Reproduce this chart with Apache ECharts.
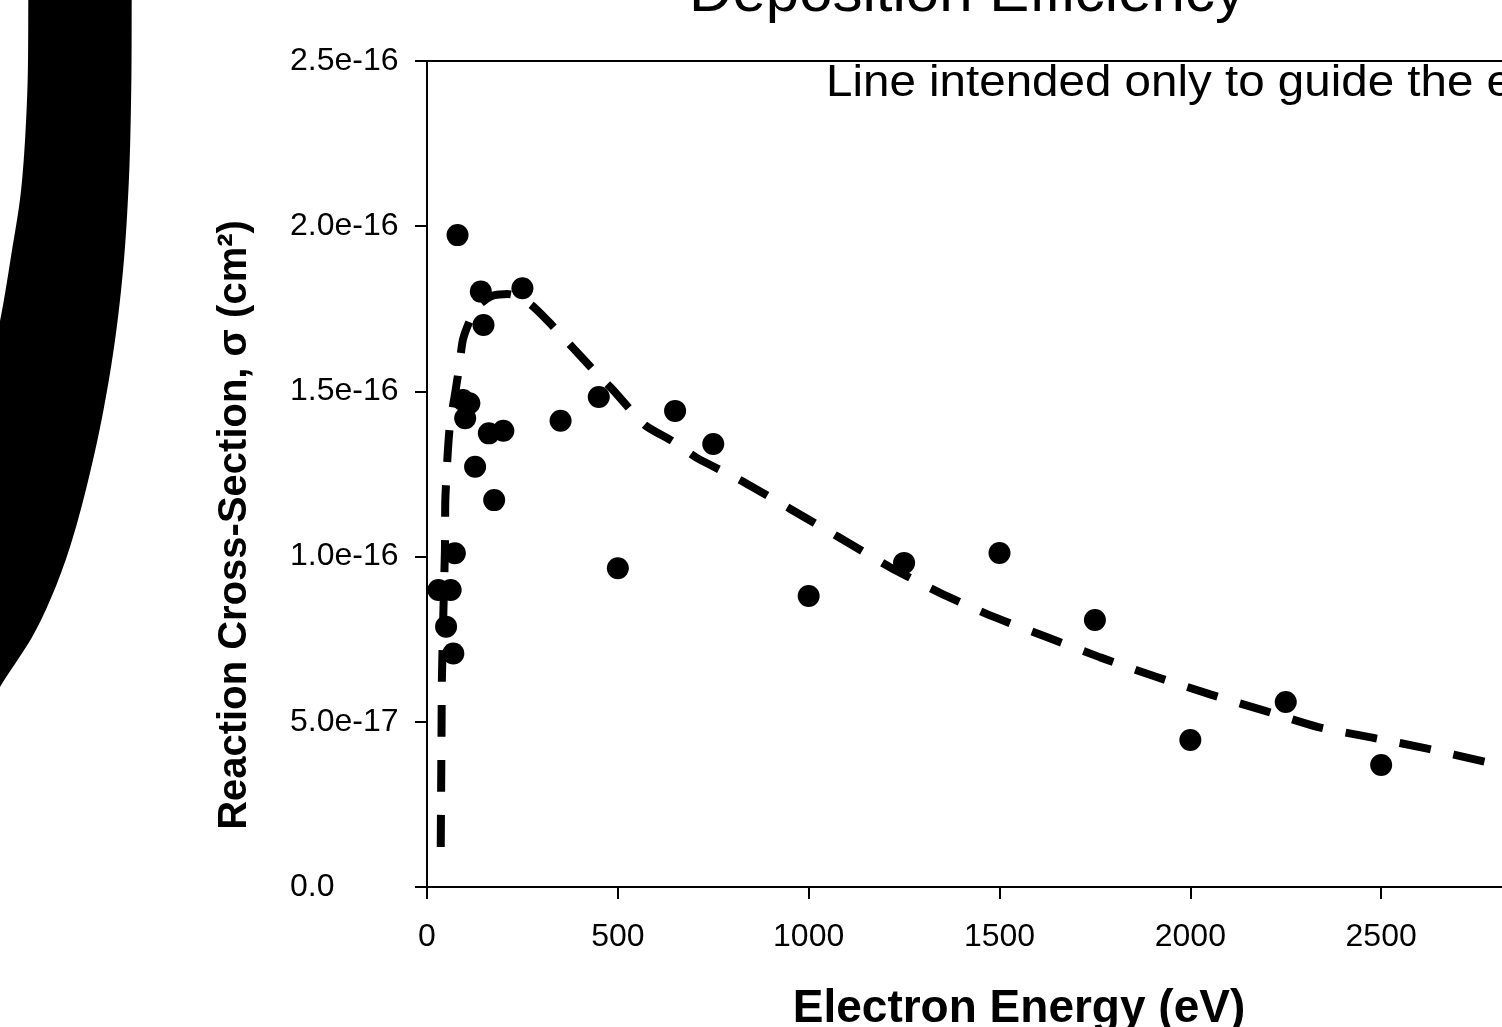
<!DOCTYPE html>
<html>
<head>
<meta charset="utf-8">
<script src="https://cdn.jsdelivr.net/npm/echarts@6/dist/echarts.min.js"></script>
<style>
html,body{margin:0;padding:0;background:#fff;}
#chart{width:1502px;height:1027px;}
</style>
</head>
<body>
<div id="chart"></div>
<script>
// ---- data ----
const scatterEnergy = [30, 50, 62, 69, 73, 80, 94, 100, 111, 126, 141, 148, 162, 176, 200, 250, 350, 450, 500, 650, 750, 1000, 1250, 1500, 1750, 2000, 2250, 2500];
const scatterSigma = [8.99e-17, 7.88e-17, 8.99e-17, 7.07e-17, 1.010e-16, 1.973e-16, 1.474e-16, 1.419e-16, 1.464e-16, 1.272e-16, 1.802e-16, 1.701e-16, 1.373e-16, 1.171e-16, 1.381e-16, 1.812e-16, 1.411e-16, 1.483e-16, 9.65e-17, 1.441e-16, 1.341e-16, 8.81e-17, 9.81e-17, 1.011e-16, 8.08e-17, 4.45e-17, 5.60e-17, 3.69e-17];

const guideEnergy = [36, 37, 38, 39, 43, 47, 48, 54, 60, 73, 84, 94, 113, 139, 170, 210, 244, 283, 322, 383, 453, 485, 571, 642, 708, 820, 951, 1077, 1213, 1344, 1475, 1620, 1764, 1908, 2052, 2196, 2335, 2477, 2621, 2765, 3000];
const guideSigma = [1.21e-17, 2.94e-17, 4.60e-17, 6.27e-17, 8.38e-17, 1.02e-16, 1.171e-16, 1.307e-16, 1.398e-16, 1.489e-16, 1.571e-16, 1.656e-16, 1.716e-16, 1.764e-16, 1.789e-16, 1.795e-16, 1.786e-16, 1.752e-16, 1.707e-16, 1.631e-16, 1.544e-16, 1.507e-16, 1.398e-16, 1.350e-16, 1.298e-16, 1.232e-16, 1.145e-16, 1.060e-16, 9.68e-17, 8.90e-17, 8.22e-17, 7.58e-17, 6.95e-17, 6.37e-17, 5.83e-17, 5.33e-17, 4.84e-17, 4.52e-17, 4.19e-17, 3.81e-17, 3.24e-17];

const xTickLabels = ['0', '500', '1000', '1500', '2000', '2500', '3000'];
const yTickLabels = ['0.0', '5.0e-17', '1.0e-16', '1.5e-16', '2.0e-16', '2.5e-16'];

const titleText = 'Deposition Efficiency';
const noteText = 'Line intended only to guide the eye';
const xAxisTitle = 'Electron Energy (eV)';
const yAxisTitle = 'Reaction Cross-Section, \u03c3 (cm\u00b2)';

// ---- decoration geometry (black arc at the left edge) ----
const arcLeftEdge = [[28.3, -40], [28.3, 0], [27.3, 92], [21.7, 184], [11.7, 252], [0, 321], [-14, 380]];
const arcRightEdge = [[-30, 740], [0, 687], [37.5, 627], [68, 553], [93, 460], [111, 367], [122.5, 276], [128.7, 184], [131.2, 92], [131.7, 0], [131.7, -40]];

function crSample(pts) {
  const out = [pts[0]];
  for (let i = 0; i < pts.length - 1; i++) {
    const p0 = pts[Math.max(0, i - 1)], p1 = pts[i], p2 = pts[i + 1], p3 = pts[Math.min(pts.length - 1, i + 2)];
    const c1 = [p1[0] + (p2[0] - p0[0]) / 6, p1[1] + (p2[1] - p0[1]) / 6];
    const c2 = [p2[0] - (p3[0] - p1[0]) / 6, p2[1] - (p3[1] - p1[1]) / 6];
    for (let s = 1; s <= 12; s++) {
      const t = s / 12, u = 1 - t;
      const a = u * u * u, b = 3 * u * u * t, c = 3 * u * t * t, d = t * t * t;
      out.push([a * p1[0] + b * c1[0] + c * c2[0] + d * p2[0], a * p1[1] + b * c1[1] + c * c2[1] + d * p2[1]]);
    }
  }
  return out;
}
const arcPoints = crSample(arcLeftEdge).concat([[-90, 380], [-90, 740]], crSample(arcRightEdge));

// ---- build ----
const FONT = '"Liberation Sans", Arial, Helvetica, sans-serif';
const scatterData = scatterEnergy.map((e, i) => [e, scatterSigma[i]]);
const guideData = guideEnergy.map((e, i) => [e, guideSigma[i]]);

const chart = echarts.init(document.getElementById('chart'), null, {renderer: 'canvas'});

const option = {
  animation: false,
  backgroundColor: '#ffffff',
  grid: {
    left: 427, top: 61, width: 1145, height: 826,
    show: true, borderColor: '#000', borderWidth: 2, backgroundColor: 'transparent',
    containLabel: false, outerBoundsMode: 'none'
  },
  xAxis: {
    type: 'value', min: 0, max: 3000, interval: 500,
    axisLine: {show: true, onZero: false, lineStyle: {color: '#000', width: 2}},
    axisTick: {show: true, inside: false, length: 12, lineStyle: {color: '#000', width: 2}},
    splitLine: {show: false},
    axisLabel: {
      margin: 34, color: '#000', fontSize: 32, fontFamily: FONT,
      formatter: (v, i) => xTickLabels[i] !== undefined ? xTickLabels[i] : ''
    }
  },
  yAxis: {
    type: 'value', min: 0, max: 2.5e-16, interval: 5e-17,
    axisLine: {show: true, onZero: false, lineStyle: {color: '#000', width: 2}},
    axisTick: {show: true, inside: false, length: 12, lineStyle: {color: '#000', width: 2}},
    splitLine: {show: false},
    axisLabel: {
      margin: 137, align: 'left', color: '#000', fontSize: 32, fontFamily: FONT,
      formatter: (v, i) => yTickLabels[i] !== undefined ? yTickLabels[i] : ''
    }
  },
  series: [
    {
      name: 'guide', type: 'line', data: guideData, showSymbol: false, smooth: 0.2,
      lineStyle: {color: '#000', width: 8, type: [32, 23], cap: 'butt', opacity: 1},
      z: 2, silent: true
    },
    {
      name: 'measured', type: 'scatter', data: scatterData, symbol: 'circle', symbolSize: 22,
      itemStyle: {color: '#000', opacity: 1}, z: 3
    }
  ],
  graphic: [
    {
      type: 'polygon', z: 100,
      shape: {points: arcPoints},
      style: {fill: '#000'}
    },
    {
      type: 'text', x: 967, y: -6, z: 100,
      style: {text: titleText, font: '60px ' + FONT, fill: '#000', align: 'center', verticalAlign: 'middle', textAlign: 'center', textVerticalAlign: 'middle'}
    },
    {
      type: 'text', x: 826, y: 84, scaleX: 1.08, z: 100,
      style: {text: noteText, font: '44px ' + FONT, fill: '#000', align: 'left', verticalAlign: 'middle', textAlign: 'left', textVerticalAlign: 'middle'}
    },
    {
      type: 'text', x: 1019, y: 1009, z: 100,
      style: {text: xAxisTitle, font: 'bold 46px ' + FONT, fill: '#000', align: 'center', verticalAlign: 'middle', textAlign: 'center', textVerticalAlign: 'middle'}
    },
    {
      type: 'text', x: 235, y: 525, rotation: Math.PI / 2, z: 100,
      style: {text: yAxisTitle, font: 'bold 40px ' + FONT, fill: '#000', align: 'center', verticalAlign: 'middle', textAlign: 'center', textVerticalAlign: 'middle'}
    }
  ]
};
chart.setOption(option);
</script>
</body>
</html>
